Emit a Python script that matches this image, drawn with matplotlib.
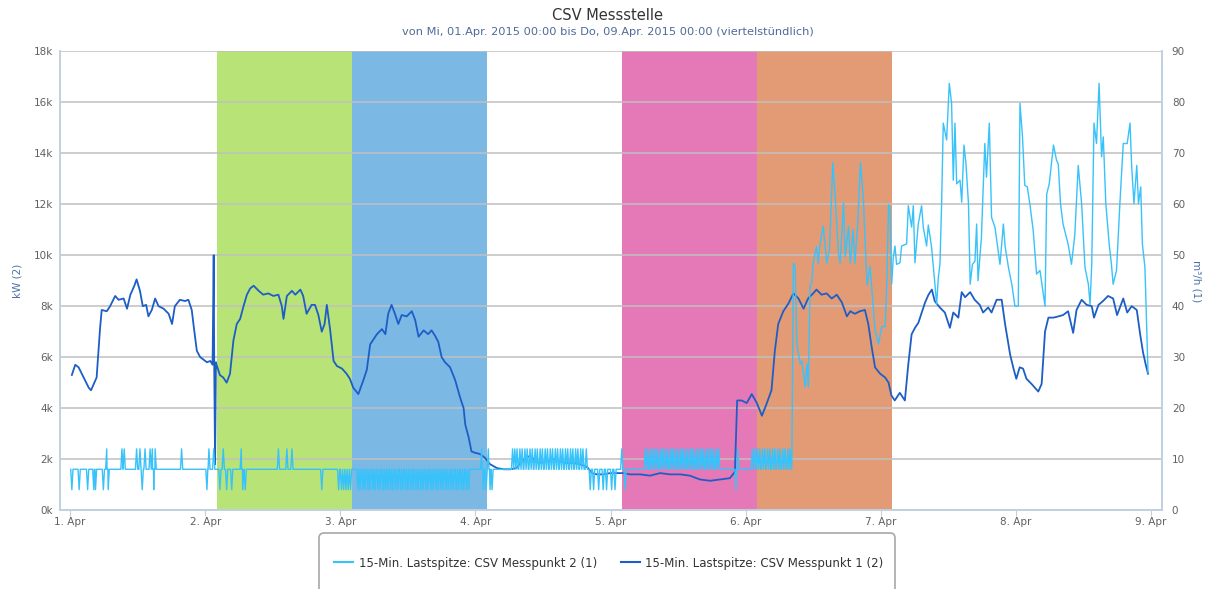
import matplotlib.pyplot as plt
from matplotlib.patches import FancyBboxPatch
from matplotlib.lines import Line2D
from matplotlib.transforms import IdentityTransform

plt.rcParams['font.family'] = ['DejaVu Sans']

# x positions are hours since 1. Apr 2015 00:00
day_hours = [0, 24, 48, 72, 96, 120, 144, 168, 192]
day_labels = ['1. Apr', '2. Apr', '3. Apr', '4. Apr', '5. Apr',
              '6. Apr', '7. Apr', '8. Apr', '9. Apr']
kw_ticks = [0, 2000, 4000, 6000, 8000, 10000, 12000, 14000, 16000, 18000]
kw_labels = ['0k', '2k', '4k', '6k', '8k', '10k', '12k', '14k', '16k', '18k']
m3_ticks = [0, 10, 20, 30, 40, 50, 60, 70, 80, 90]

# coloured day bands
band_start = [26, 50, 98, 122]
band_end = [50, 74, 122, 146]
band_colors = ['#b8e377', '#7bb8e4', '#e579b7', '#e39b76']

# Messpunkt 1 (kW, left axis)
mp1_h = [0.3, 0.9, 1.5, 2.4, 3.3, 3.7, 4.1, 4.7, 5.3, 5.6, 6.5, 7.1, 8.0, 8.6, 9.5,
         10.1, 10.7, 11.4, 11.8, 12.4, 12.9, 13.5, 13.9, 14.5, 15.1, 15.7, 16.6, 17.5,
         18.1, 18.6, 19.5, 20.4, 21.0, 21.6, 21.9, 22.5, 23.1, 23.7, 24.3, 24.9, 25.3,
         25.5, 25.6, 25.75, 25.9, 26.0, 26.6, 27.2, 27.8, 28.4, 29.0, 29.6, 30.2, 30.8,
         31.4, 32.0, 32.6, 33.5, 34.3, 35.2, 36.1, 37.0, 37.6, 37.9, 38.5, 39.4, 40.0,
         40.9, 41.4, 42.0, 42.9, 43.5, 44.1, 44.7, 45.2, 45.6, 46.2, 46.8, 47.4, 48.3,
         49.1, 49.7, 50.3, 51.2, 52.1, 52.7, 53.3, 53.9, 54.5, 55.4, 56.0, 56.5, 57.1,
         57.7, 58.3, 58.9, 59.8, 60.7, 61.3, 61.9, 62.8, 63.6, 64.2, 64.8, 65.4, 66.0,
         66.6, 67.5, 68.4, 69.3, 69.9, 70.2, 70.8, 71.3, 71.9, 72.8, 73.7, 74.6, 75.8,
         77.0, 78.2, 79.3, 80.2, 81.1, 82.0, 82.6, 83.5, 84.7, 85.9, 87.0, 88.2, 89.4,
         90.6, 91.8, 92.7, 93.6, 94.7, 95.9, 97.1, 98.3, 99.5, 101.3, 103.0, 104.8,
         106.6, 108.4, 110.1, 111.9, 113.7, 115.5, 117.2, 118.1, 118.5, 119.3, 120.2,
         121.1, 122.0, 122.9, 123.7, 124.6, 125.2, 125.8, 126.7, 127.6, 128.5, 129.4,
         130.3, 131.1, 132.0, 132.6, 133.5, 134.4, 135.3, 136.2, 137.1, 138.0, 138.6,
         139.4, 140.3, 141.2, 141.8, 142.4, 143.0, 143.9, 144.8, 145.4, 145.9, 146.5,
         147.4, 148.3, 148.9, 149.5, 150.1, 150.7, 151.3, 151.9, 152.5, 153.1, 153.6,
         154.5, 155.4, 156.3, 156.9, 157.8, 158.4, 159.0, 159.9, 160.7, 161.6, 162.2,
         163.1, 163.7, 164.6, 165.5, 166.1, 167.0, 167.6, 168.1, 168.7, 169.3, 169.9,
         170.8, 171.4, 172.0, 172.6, 173.2, 173.8, 174.7, 175.6, 176.4, 177.3, 178.2,
         178.8, 179.7, 180.6, 181.5, 181.9, 182.7, 183.5, 184.4, 185.3, 186.0, 187.1,
         187.8, 188.6, 189.5, 190.1, 190.6, 191.1, 191.5]
mp1_kw = [5300, 5700, 5600, 5200, 4800, 4700, 4900, 5200, 7100, 7850, 7800, 8000, 8400, 8250, 8300,
          7900, 8450, 8800, 9050, 8600, 8000, 8050, 7600, 7850, 8300, 8000, 7900, 7700,
          7300, 8000, 8250, 8200, 8250, 7850, 7300, 6250, 6000, 5900, 5800, 5850, 5700,
          10000, 5500, 1800, 5800, 5700, 5300, 5200, 5000, 5350, 6650, 7300, 7500, 8000,
          8450, 8700, 8800, 8600, 8450, 8500, 8400, 8450, 8000, 7500, 8400, 8600, 8450,
          8650, 8400, 7700, 8050, 8050, 7650, 7000, 7300, 8050, 7050, 5850, 5650, 5550,
          5350, 5150, 4800, 4550, 5100, 5500, 6500, 6700, 6900, 7100, 6900, 7700, 8050,
          7700, 7300, 7650, 7600, 7800, 7450, 6800, 7050, 6900, 7050, 6850, 6600, 6000,
          5800, 5600, 5100, 4400, 4000, 3350, 2850, 2300, 2250, 2200, 2050, 1800, 1650,
          1600, 1600, 1650, 1900, 2100, 2100, 1900, 1850, 1900, 2000, 1900, 1850, 1850,
          1800, 1700, 1450, 1400, 1400, 1450, 1450, 1450, 1400, 1400, 1350, 1450,
          1400, 1400, 1350, 1200, 1150, 1200, 1250, 1500, 4300, 4300, 4200,
          4550, 4200, 3700, 4150, 4700, 6250, 7300, 7800, 8100, 8500, 8300,
          7900, 8300, 8500, 8650, 8450, 8500, 8300, 8450, 8150, 7600, 7800,
          7700, 7800, 7850, 7300, 6400, 5600, 5350, 5200, 5000, 4500, 4300,
          4600, 4300, 5700, 6900, 7150, 7350, 7750, 8150, 8450, 8650, 8200,
          7950, 7750, 7150, 7750, 7550, 8550, 8350, 8550, 8250, 8050, 7750,
          7950, 7750, 8250, 8250, 7300, 6100, 5550, 5150, 5600, 5550, 5150,
          4950, 4800, 4650, 4950, 7000, 7550, 7550, 7600, 7650, 7800, 6950,
          7850, 8250, 8050, 8000, 7550, 8050, 8200, 8400, 8300, 7650, 8300,
          7750, 8000, 7850, 6900, 6200, 5700, 5350]

# Messpunkt 2 (m³/h, right axis): flat level with single 15-min spikes up to 6. Apr noon
mp2_level = 8
mp2_spike_h = [0.3, 1.6, 3.1, 4.2, 4.5, 5.9, 6.5, 6.75, 9.2, 9.6, 11.8, 12.4, 12.8, 13.3,
               14.2, 14.6, 14.85, 15.1, 19.8, 24.3, 24.65, 25.5, 26.6, 27.2, 27.8, 28.7,
               30.4, 30.65, 31.1, 37.0, 38.5, 39.4, 44.7,
               47.7, 48.2, 48.6, 49.0, 49.4, 49.8, 51.1, 51.5, 52.0, 52.4, 52.9, 53.3,
               53.8, 54.2, 54.7, 55.1, 55.6, 56.0, 56.4, 56.9, 57.3, 57.8, 58.2, 58.7,
               59.1, 59.6, 60.0, 60.5, 60.9, 61.4, 61.8, 62.3, 62.7, 63.2, 63.6, 64.1,
               64.5, 65.0, 65.4, 65.9, 66.3, 66.8, 67.2, 67.7, 68.1, 68.6, 69.0, 69.5,
               69.9, 70.4, 70.8, 73.1, 73.4, 73.9, 74.3, 74.6, 74.95,
               78.6, 79.0, 79.4, 79.9, 80.3, 80.8, 81.2, 81.7, 82.1, 82.6, 83.0, 83.5,
               83.9, 84.4, 84.8, 85.3, 85.7, 86.2, 86.6, 87.1, 87.5, 88.0, 88.4, 88.9,
               89.3, 89.8, 90.2, 90.7, 91.1, 91.7, 92.4, 93.0, 93.9, 94.7, 95.3, 96.2,
               96.8, 98.0, 98.6,
               102.2, 102.6, 103.1, 103.5, 104.0, 104.4, 104.9, 105.3, 105.8, 106.2,
               106.7, 107.1, 107.6, 108.0, 108.5, 108.9, 109.4, 109.8, 110.3, 110.7,
               111.2, 111.6, 112.1, 112.5, 113.0, 113.4, 113.9, 114.3, 114.8, 115.2,
               118.3, 118.6,
               121.2, 121.6, 122.1, 122.5, 123.0, 123.4, 123.9, 124.3, 124.8, 125.2,
               125.7, 126.1, 126.6, 127.0, 127.5, 127.9]
mp2_spike_v = [4, 4, 4, 4, 4, 4, 12, 4, 12, 12, 12, 12, 4, 12,
               12, 12, 4, 12, 12, 4, 12, 12, 4, 12, 4, 4,
               12, 4, 4, 12, 12, 12, 4,
               4, 4, 4, 4, 4, 4, 4, 4, 4, 4, 4, 4,
               4, 4, 4, 4, 4, 4, 4, 4, 4, 4, 4, 4,
               4, 4, 4, 4, 4, 4, 4, 4, 4, 4, 4, 4,
               4, 4, 4, 4, 4, 4, 4, 4, 4, 4, 4, 4,
               4, 4, 4, 12, 4, 4, 12, 4, 4,
               12, 12, 12, 12, 12, 12, 12, 12, 12, 12, 12, 12,
               12, 12, 12, 12, 12, 12, 12, 12, 12, 12, 12, 12,
               12, 12, 12, 12, 12, 12, 4, 4, 4, 4, 4, 4,
               4, 12, 4,
               12, 12, 12, 12, 12, 12, 12, 12, 12, 12,
               12, 12, 12, 12, 12, 12, 12, 12, 12, 12,
               12, 12, 12, 12, 12, 12, 12, 12, 12, 12,
               4, 12,
               12, 12, 12, 12, 12, 12, 12, 12, 12, 12,
               12, 12, 12, 12, 12, 12]
# from 6. Apr noon on the curve moves freely
mp2_h = [128.2, 128.5, 128.8, 129.1, 129.7, 130.0, 130.6, 130.9, 131.15, 131.45, 131.75,
         132.0, 132.6, 132.9, 133.2, 133.8, 134.4, 134.9, 135.5, 135.9, 136.5, 136.8,
         137.4, 137.7, 138.3, 138.6, 139.1, 139.4, 139.9, 140.4, 140.9, 141.4, 141.6,
         142.1, 142.4, 143.0, 143.6, 144.2, 144.8, 145.1, 145.4, 145.65, 145.95, 146.24,
         146.54, 146.83, 147.43, 147.72, 148.61, 148.91, 149.5, 149.8, 150.09, 150.68,
         151.27, 151.57, 152.16, 152.46, 153.05, 153.64, 153.94, 154.24, 154.53, 154.83,
         155.12, 155.72, 156.19, 156.6, 156.9, 157.2, 157.5, 158.1, 158.4, 158.8, 159.15,
         159.6, 159.9, 160.3, 160.75, 161.05, 161.3, 161.9, 162.5, 162.8, 163.3, 163.7,
         164.3, 164.7, 165.2, 165.8, 166.1, 166.7, 167.3, 167.85, 168.45, 168.75, 169.2,
         169.6, 170.05, 170.5, 171.1, 171.7, 172.3, 173.2, 173.5, 173.95, 174.7, 175.25,
         175.55, 175.95, 176.4, 177.3, 177.9, 178.5, 179.1, 179.7, 180.3, 180.9, 181.2,
         181.5, 181.9, 182.35, 182.8, 183.25, 183.55, 184.0, 184.6, 185.0, 185.3, 185.9,
         186.5, 187.1, 187.8, 188.3, 188.6, 189.0, 189.5, 189.8, 190.2, 190.5, 190.95,
         191.5]
mp2_v = [8, 48.4, 47.8, 32.6, 28.7, 29.3, 24.1, 28.7, 24.1, 44.1, 44.5,
         48.4, 51.7, 48.4, 52.0, 55.7, 48.4, 51.1, 68.2, 61.6, 50.4, 48.4,
         60.3, 49.7, 55.7, 48.4, 55.0, 48.4, 55.7, 68.2, 61.6, 48.4, 44.1,
         47.8, 43.8, 35.3, 32.6, 36.0, 36.0, 45.1, 59.9, 59.4, 44.3, 49.5,
         51.8, 48.2, 48.5, 51.8, 52.2, 59.7, 55.5, 59.7, 48.5, 56.1,
         59.7, 55.5, 51.8, 55.9, 51.5, 44.3, 40.3, 45.6, 48.2, 60.1,
         75.9, 72.6, 83.7, 79.8, 64.7, 75.9, 64.0, 64.7, 60.4, 71.6, 68.0,
         60.1, 44.3, 48.2, 48.8, 56.1, 45.0, 53.5, 71.9, 65.3, 75.9, 57.4,
         55.5, 52.2, 48.2, 56.1, 51.8, 47.6, 44.3, 40.0, 40.0, 79.8, 73.2,
         63.7, 63.4, 60.1, 54.8, 46.3, 47.0, 40.0, 62.0, 64.0, 71.6, 68.6,
         67.9, 60.1, 56.1, 52.2, 48.2, 54.1, 67.6, 60.1, 47.6, 44.3, 40.3,
         48.2, 75.9, 71.9, 83.7, 69.3, 73.2, 60.1, 52.2, 48.2, 44.3, 47.0,
         60.1, 71.9, 71.9, 75.9, 67.3, 60.1, 67.6, 60.1, 63.4, 52.2, 47.6,
         27.0]

pts = []
for h, v in zip(mp2_spike_h, mp2_spike_v):
    pts += [(h - 0.2, mp2_level), (h, v), (h + 0.2, mp2_level)]
pts.sort()
mp2_x = [p[0] for p in pts] + mp2_h
mp2_y = [p[1] for p in pts] + mp2_v

c_light = '#38c2fa'
c_dark = '#1d5ec6'
c_axis = '#c0d0e0'

fig = plt.figure(figsize=(12.08, 5.89), dpi=100)
ax = fig.add_axes([0.0497, 0.134, 0.9123, 0.779])
ax2 = ax.twinx()

for s, e, c in zip(band_start, band_end, band_colors):
    ax.axvspan(s, e, color=c, lw=0, zorder=0.2)

ax.set_axisbelow(True)
ax.yaxis.grid(True, color='#c0c0c0', lw=1.1)

ax.plot(mp1_h, mp1_kw, color=c_dark, lw=1.3)
ax2.plot(mp2_x, mp2_y, color=c_light, lw=1.0)

ax.set_xlim(-1.8, 194)
ax.set_ylim(0, 18000)
ax2.set_ylim(0, 90)
ax.set_xticks(day_hours, day_labels)
ax.set_yticks(kw_ticks, kw_labels)
ax2.set_yticks(m3_ticks, [str(t) for t in m3_ticks])

ax.tick_params(axis='x', direction='out', length=4, color=c_axis,
               labelcolor='#606060', labelsize=7.5, pad=1)
ax.tick_params(axis='y', length=0, labelcolor='#606060', labelsize=7.5, pad=5)
ax2.tick_params(axis='y', length=0, labelcolor='#606060', labelsize=7.5, pad=7)

for a in (ax, ax2):
    a.spines['top'].set_visible(False)
    for side in ('left', 'right', 'bottom'):
        a.spines[side].set_color(c_axis)
        a.spines[side].set_linewidth(1.2)

ax.set_ylabel('kW (2)', color='#4a6fa5', fontsize=7.5, labelpad=8)
ax2.set_ylabel('m³/h (1)', color='#4a6fa5', fontsize=7.5, rotation=270, labelpad=12)

fig.text(0.503, 1 - 16 / 589, 'CSV Messstelle', ha='center', va='center',
         fontsize=10.5, color='#333333')
fig.text(0.503, 1 - 32 / 589,
         'von Mi, 01.Apr. 2015 00:00 bis Do, 09.Apr. 2015 00:00 (viertelstündlich)',
         ha='center', va='center', fontsize=8.2, color='#4d6b9a')

box = FancyBboxPatch((319, -11), 576, 67, boxstyle='round,pad=0,rounding_size=5',
                     transform=IdentityTransform(), facecolor='white',
                     edgecolor='#a8a8a8', lw=1.2)
fig.patches.append(box)
handles = [Line2D([], [], color=c_light, lw=1.5), Line2D([], [], color=c_dark, lw=1.5)]
fig.legend(handles, ['15-Min. Lastspitze: CSV Messpunkt 2 (1)',
                     '15-Min. Lastspitze: CSV Messpunkt 1 (2)'],
           loc='center', bbox_to_anchor=(0.504, 1 - 563 / 589), ncol=2, frameon=False,
           fontsize=8.5, handlelength=1.6, handletextpad=0.5, columnspacing=2.0,
           labelcolor='#333333')

fig.savefig('out.png', dpi=100)
